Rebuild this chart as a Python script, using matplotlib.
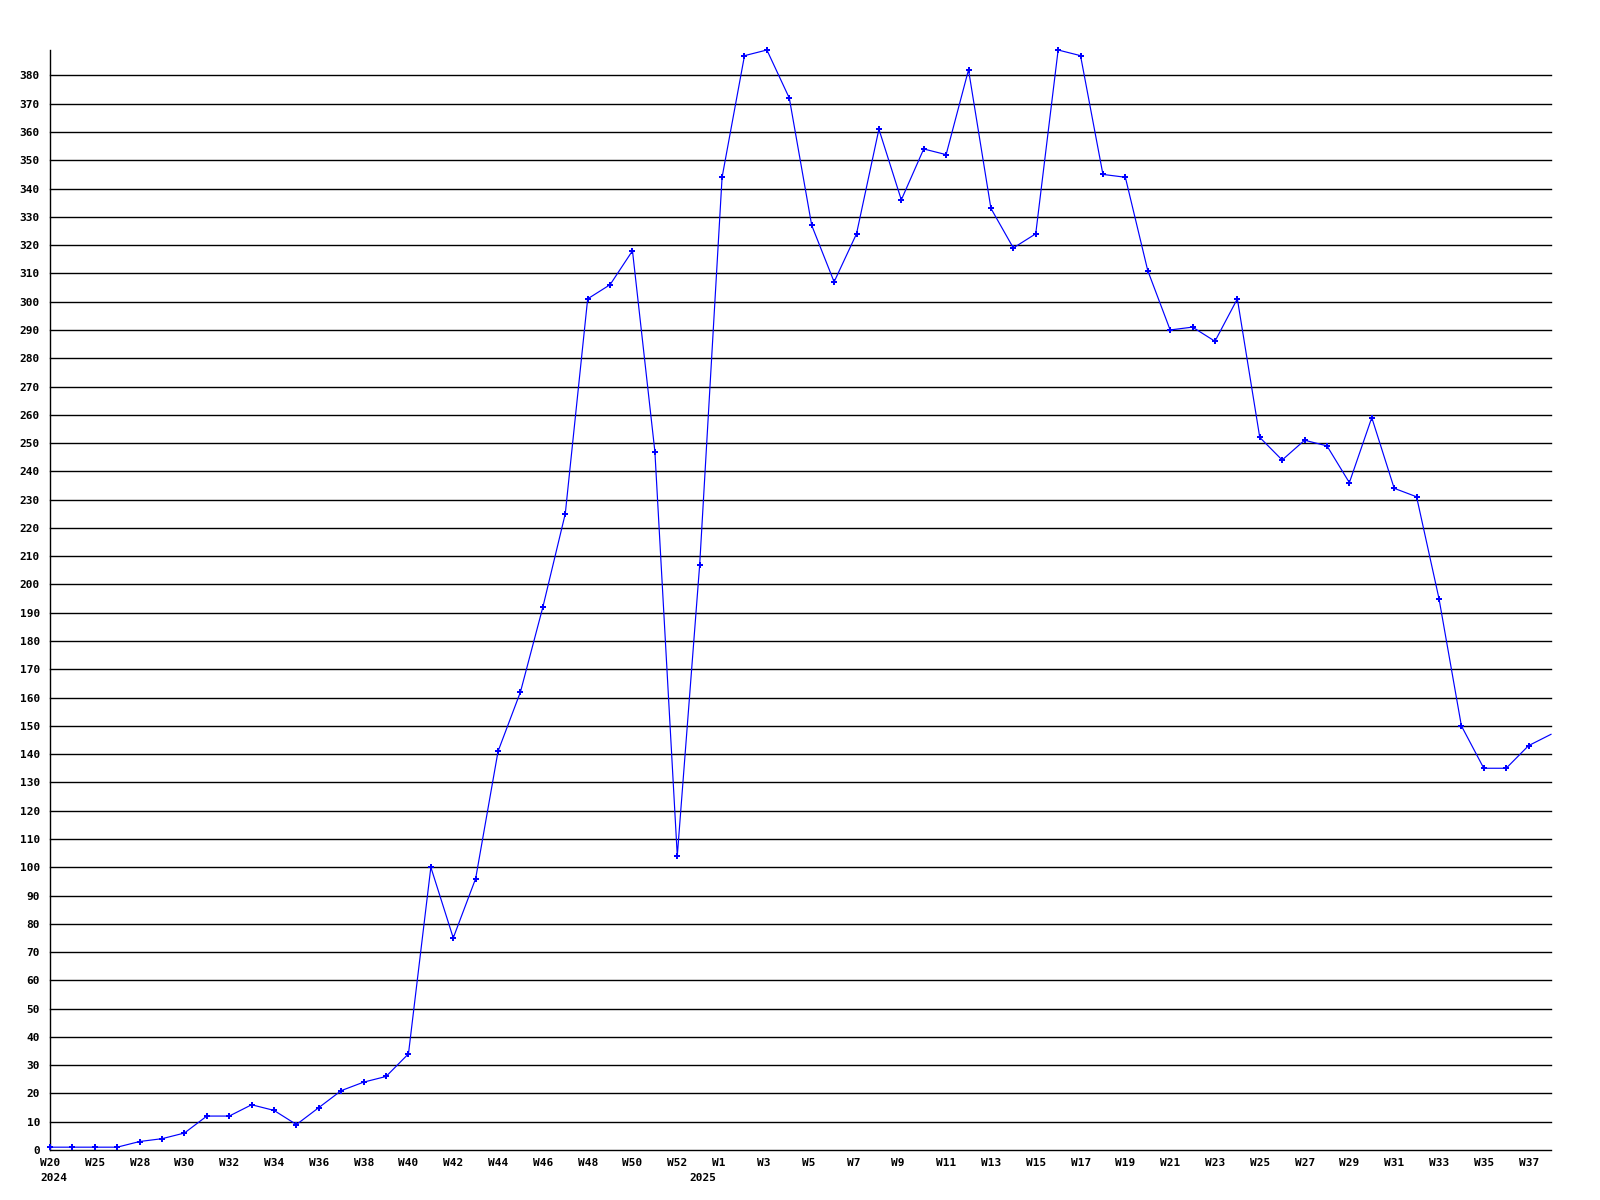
import matplotlib
matplotlib.use("Agg")
import matplotlib.pyplot as plt
from matplotlib.transforms import ScaledTranslation, blended_transform_factory

# Week tick labels (every other point labelled; '' = unlabelled point)
week_labels = ["W20", "", "W25", "", "W28", "", "W30", "", "W32", "", "W34", "", "W36", "",
               "W38", "", "W40", "", "W42", "", "W44", "", "W46", "", "W48", "", "W50", "",
               "W52", "", "W1", "", "W3", "", "W5", "", "W7", "", "W9", "", "W11", "", "W13", "",
               "W15", "", "W17", "", "W19", "", "W21", "", "W23", "", "W25", "", "W27", "",
               "W29", "", "W31", "", "W33", "", "W35", "", "W37", ""]
year_labels = {0: "2024", 29: "2025"}

values = [1, 1, 1, 1, 3, 4, 6, 12, 12, 16, 14, 9, 15, 21, 24, 26, 34, 100, 75, 96,
          141, 162, 192, 225, 301, 306, 318, 247, 104, 207, 344, 387, 389, 372, 327, 307,
          324, 361, 336, 354, 352, 382, 333, 319, 324, 389, 387, 345, 344, 311, 290, 291,
          286, 301, 252, 244, 251, 249, 236, 259, 234, 231, 195, 150, 135, 135, 143, 147]

y_ticks = list(range(0, 390, 10))

FONT = dict(family="DejaVu Sans Mono", weight="bold", size=8)

fig = plt.figure(figsize=(16, 12), dpi=100)
ax = fig.add_axes([50 / 1600, 50 / 1200, 1501 / 1600, 1100 / 1200])

x = list(range(len(values)))
ax.plot(x, values, color="#0000ff", lw=0.85, marker="P", ms=4.8, mew=0,
        markevery=list(range(len(values) - 1)), clip_on=False, zorder=3)

ax.set_xlim(0, len(values) - 1)
ax.set_ylim(0, max(values))

ax.set_yticks(y_ticks)
ax.set_yticklabels([str(v) for v in y_ticks], fontdict=FONT)
for v in y_ticks:
    ax.axhline(v, color="black", lw=1.0, zorder=1, clip_on=False)

ax.set_xticks([])
ax.tick_params(axis="both", length=0)
ax.tick_params(axis="y", pad=7.2)

blend = blended_transform_factory(ax.transData, ax.transAxes)
lab_tr = blend + ScaledTranslation(-10 / 100, -8 / 100, fig.dpi_scale_trans)
for i, wl in enumerate(week_labels):
    if wl:
        ax.text(i, 0, wl, transform=lab_tr, ha="left", va="top", fontdict=FONT, clip_on=False)

year_tr = blend + ScaledTranslation(-10 / 100, -23 / 100, fig.dpi_scale_trans)
for i, yl in year_labels.items():
    ax.text(i, 0, yl, transform=year_tr, ha="left", va="top", fontdict=FONT, clip_on=False)

for s in ["top", "right", "bottom"]:
    ax.spines[s].set_visible(False)
ax.spines["left"].set_color("black")
ax.spines["left"].set_linewidth(1.0)

fig.savefig("out.png", dpi=100, facecolor="white")
